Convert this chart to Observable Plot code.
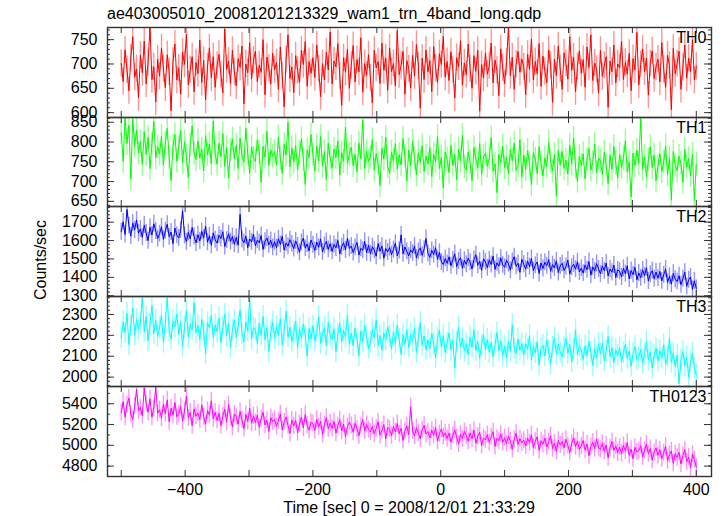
<!DOCTYPE html>
<html><head><meta charset="utf-8">
<script src="https://cdn.jsdelivr.net/npm/d3@7"></script>
<script src="https://cdn.jsdelivr.net/npm/@observablehq/plot@0.6"></script>
<style>
body{margin:0;background:#fff;}
#wrap{position:relative;width:723px;height:516px;font-family:"Liberation Sans",Arial,Helvetica,sans-serif;color:#000;overflow:hidden;}
.panel{position:absolute;left:0;}
.panel svg{overflow:visible;display:block;}
#title{position:absolute;left:107px;top:5px;font-size:16px;white-space:nowrap;}
#ylab{position:absolute;left:41px;top:260px;transform:translate(-50%,-50%) rotate(-90deg);font-size:16px;white-space:nowrap;}
#xlab{position:absolute;left:409px;top:499px;transform:translateX(-50%);font-size:16px;white-space:nowrap;}
</style></head><body>
<div id="wrap">
<div id="title">ae403005010_20081201213329_wam1_trn_4band_long.qdp</div>
<div id="ylab">Counts/sec</div>
<div id="xlab">Time [sec] 0 = 2008/12/01 21:33:29</div>
</div>
<script>
// light curve bins: start time and bin width (sec)
const timeStart = -500;
const binWidth = 3;

const bandNames = ["TH0", "TH1", "TH2", "TH3", "TH0123"];
// typical 1-sigma error bar per band (counts/sec)
const bandErrors = [28, 30, 46, 52, 82];

const th0 = [
701,664,729,688,645,712,756,673,690,631,
718,682,747,659,703,776,668,694,622,710,
675,733,690,651,719,684,604,706,741,667,
692,638,724,699,761,657,688,715,643,703,
680,749,662,707,626,694,733,671,715,652,
697,720,678,641,772,689,706,660,728,684,
655,711,693,737,618,700,682,744,669,708,
726,664,698,683,750,637,714,691,659,722,
688,703,648,735,676,612,709,760,670,694,
641,717,687,662,728,699,746,654,705,681,
713,672,739,690,633,701,667,724,688,766,
659,706,694,742,676,615,713,683,730,650,
697,738,663,709,684,754,642,701,677,719,
671,620,728,692,705,660,743,687,712,646,
733,684,701,655,769,678,697,726,638,707,
690,651,718,675,740,696,609,712,668,729,
684,707,643,736,691,662,721,699,757,673,
705,666,725,688,630,713,694,748,657,702,
678,741,690,650,717,685,728,603,699,671,
723,679,696,743,661,708,687,635,731,692,
659,704,775,676,714,648,699,726,683,710,
694,637,720,689,751,667,705,680,742,654,
716,685,662,729,698,621,710,676,737,690,
648,723,701,669,756,687,714,643,695,727,
681,709,652,735,693,760,666,702,689,640,
728,674,697,715,611,706,684,739,661,700,
692,747,668,703,679,722,645,711,688,765,
657,699,731,684,712,636,701,727,670,694,
710,663,744,689,652,718,697,606,732,680,
701,726,648,693,739,671,712,684,750,667,
695];

const th1 = [
823,751,861,796,842,707,858,789,830,772,
801,744,826,769,812,733,795,852,760,788,
770,815,742,797,834,761,703,790,819,752,
786,829,748,801,765,710,793,841,772,756,
803,759,782,727,816,768,795,745,853,771,
744,797,763,821,738,786,709,779,808,757,
792,733,810,766,749,835,771,720,788,759,
751,806,774,698,789,762,827,741,780,764,
776,742,813,758,721,794,767,850,737,785,
749,791,730,772,808,755,693,780,761,819,
768,727,790,752,814,739,776,705,797,760,
734,782,761,803,716,773,751,838,746,769,
787,740,769,725,798,758,856,733,777,751,
762,806,729,771,745,690,784,757,812,738,
721,775,753,796,732,768,742,809,764,702,
780,739,802,758,717,773,749,791,726,764,
744,786,712,769,750,814,733,761,684,775,
756,723,791,741,768,705,782,752,817,737,
729,774,748,702,786,757,734,796,718,763,
771,738,759,811,726,745,672,768,749,790,
735,762,719,781,753,797,728,740,806,711,
767,731,779,744,692,773,757,720,788,746,
714,760,738,799,751,727,768,664,779,742,
776,733,754,719,792,745,810,736,701,764,
741,770,707,757,783,729,748,795,722,760,
752,718,774,740,695,767,731,789,746,709,
769,736,758,803,724,750,661,772,740,779,
746,859,731,763,712,755,788,735,767,702,
738,771,725,749,790,717,760,653,776,741,
727,764,746,698,781,737,758,715,769,652,
744];

const th2 = [
1648,1702,1633,1769,1681,1624,1695,1657,1712,1640,
1663,1618,1684,1641,1599,1672,1630,1691,1652,1611,
1637,1675,1606,1653,1689,1621,1646,1583,1668,1629,
1614,1657,1762,1628,1593,1644,1609,1671,1622,1587,
1632,1598,1650,1613,1679,1591,1626,1574,1642,1604,
1586,1629,1611,1648,1567,1603,1637,1595,1622,1580,
1617,1575,1742,1606,1588,1624,1561,1609,1593,1635,
1571,1603,1588,1627,1552,1596,1614,1577,1601,1563,
1594,1561,1610,1579,1623,1548,1587,1569,1605,1582,
1556,1598,1571,1536,1590,1613,1559,1581,1544,1603,
1577,1546,1592,1563,1609,1538,1574,1595,1552,1583,
1541,1579,1560,1601,1527,1566,1588,1549,1612,1557,
1570,1535,1563,1590,1521,1558,1547,1596,1533,1574,
1529,1566,1548,1515,1583,1542,1570,1503,1557,1538,
1562,1524,1551,1586,1517,1546,1631,1528,1565,1541,
1516,1549,1533,1571,1505,1542,1560,1520,1553,1611,
1530,1509,1547,1524,1561,1498,1536,1484,1470,1502,
1476,1512,1463,1495,1528,1458,1489,1507,1449,1493,
1471,1505,1482,1446,1497,1523,1465,1488,1438,1501,
1484,1452,1496,1470,1515,1443,1479,1461,1506,1468,
1455,1493,1474,1439,1487,1512,1460,1476,1427,1498,
1471,1445,1489,1458,1503,1436,1466,1484,1421,1479,
1448,1482,1463,1497,1433,1469,1451,1490,1426,1462,
1476,1437,1459,1494,1418,1455,1472,1444,1485,1429,
1450,1423,1468,1441,1486,1412,1457,1434,1475,1446,
1419,1462,1436,1478,1408,1445,1428,1467,1399,1441,
1433,1402,1449,1420,1463,1391,1437,1415,1455,1386,
1424,1398,1441,1409,1452,1380,1417,1436,1393,1429,
1396,1432,1381,1414,1446,1373,1405,1363,1422,1390,
1377,1409,1360,1392,1428,1351,1387,1402,1335,1381,
1340];

const th3 = [
2188,2264,2213,2305,2156,2247,2331,2201,2276,2229,
2260,2383,2217,2289,2174,2252,2342,2208,2271,2195,
2236,2297,2167,2258,2385,2219,2183,2270,2241,2302,
2205,2266,2148,2239,2318,2192,2254,2226,2359,2213,
2247,2178,2276,2222,2113,2261,2235,2296,2189,2250,
2218,2282,2164,2238,2301,2197,2259,2142,2225,2273,
2190,2246,2323,2207,2169,2264,2221,2378,2183,2237,
2229,2161,2258,2203,2291,2178,2236,2124,2215,2262,
2186,2243,2201,2279,2153,2224,2316,2192,2238,2171,
2212,2268,2140,2230,2187,2254,2199,2101,2233,2183,
2245,2173,2216,2288,2162,2209,2236,2150,2262,2197,
2181,2231,2119,2204,2259,2170,2223,2191,2297,2157,
2210,2149,2235,2184,2103,2220,2172,2246,2195,2137,
2168,2227,2190,2274,2151,2199,2128,2212,2177,2241,
2196,2134,2217,2163,2250,2182,2109,2203,2157,2226,
2143,2205,2170,2233,2118,2188,2261,2152,2197,2129,
2178,2137,2209,2160,2092,2186,2225,2144,2199,2117,
2163,2212,2131,2178,2043,2169,2240,2140,2187,2124,
2159,2108,2192,2143,2228,2127,2171,2090,2156,2203,
2132,2180,2119,2166,2097,2155,2214,2126,2173,2102,
2148,2095,2170,2123,2251,2138,2112,2182,2129,2161,
2106,2159,2133,2198,2081,2146,2117,2169,2058,2137,
2152,2101,2177,2125,2064,2143,2188,2110,2158,2120,
2097,2142,2186,2114,2156,2073,2132,2226,2108,2149,
2128,2085,2150,2102,2171,2119,2056,2136,2094,2160,
2111,2163,2079,2126,2195,2098,2141,2070,2130,2104,
2139,2072,2117,2158,2090,2124,2051,2112,2146,2083,
2095,2133,2066,2109,2170,2082,2121,2043,2103,2138,
2078,2127,2091,2155,2060,2099,2186,2071,2114,2049,
2106,1968,2083,2122,2054,2097,1999,2076,2113,2040,
2010];

const th0123 = [
5316,5421,5270,5389,5455,5301,5247,5376,5538,5332,
5364,5285,5552,5401,5319,5448,5270,5357,5563,5309,
5342,5261,5396,5305,5437,5228,5358,5290,5411,5276,
5298,5376,5233,5330,5472,5263,5318,5189,5351,5280,
5312,5246,5389,5275,5203,5336,5291,5429,5256,5317,
5238,5307,5190,5281,5349,5222,5392,5269,5175,5301,
5275,5204,5326,5243,5161,5297,5230,5358,5212,5284,
5219,5291,5172,5255,5318,5196,5240,5134,5267,5228,
5251,5183,5236,5302,5147,5225,5274,5190,5113,5243,
5186,5239,5121,5207,5273,5168,5296,5192,5146,5221,
5209,5143,5252,5178,5231,5105,5196,5267,5160,5214,
5163,5230,5118,5189,5246,5137,5205,5084,5180,5222,
5191,5126,5213,5158,5092,5184,5247,5139,5200,5151,
5127,5182,5109,5163,5226,5098,5145,5199,5063,5170,
5156,5093,5181,5128,5210,5111,5164,5047,5139,5187,
5102,5371,5138,5089,5170,5118,5063,5149,5192,5107,
5131,5072,5146,5098,5169,5041,5112,5157,5084,5120,
5066,5119,5031,5097,5150,5075,5012,5108,5061,5134,
5093,5040,5118,5064,5145,5019,5086,5127,4998,5071,
5052,5103,5027,5081,5132,4989,5068,5044,5109,5030,
5073,5016,5089,5041,4962,5058,5115,5007,5064,5025,
5049,4993,5070,5026,5101,4978,5039,5082,4951,5044,
5011,5067,4985,5034,5092,4969,5023,4941,5048,5003,
5036,4977,5058,4998,4931,5019,5074,4986,5040,4960,
4994,5047,4953,5013,4899,4987,5031,4968,5060,4975,
4962,5018,4941,5003,4880,4976,5037,4951,4993,4929,
4984,4921,4998,4947,5026,4904,4963,4870,4981,4935,
4947,4996,4889,4952,5011,4918,4969,4856,4931,4975,
4903,4957,4872,4929,4990,4851,4911,4946,4826,4919,
4884,4933,4820,4902,4958,4841,4887,4785,4915,4862,
4790];

// tick labels
const th0Ticks = [600, 650, 700, 750];
const th1Ticks = [650, 700, 750, 800, 850];
const th2Ticks = [1300, 1400, 1500, 1600, 1700];
const th3Ticks = [2000, 2100, 2200, 2300];
const th0123Ticks = [4800, 5000, 5200, 5400];
const timeTicks = [-400, -200, 0, 200, 400];

// ---- layout / style ----
const font = '"Liberation Sans", Arial, Helvetica, sans-serif';
const W = 723, ML = 107, MR = 12, innerW = W - ML - MR;
const xDomain = [-521.5, 423.8];
const panelTops = [27, 117, 206, 296, 386, 476];
const panels = [
  {values: th0, ticks: th0Ticks, color: "#ff0000", domain: [590, 775], minor: 10},
  {values: th1, ticks: th1Ticks, color: "#00ff00", domain: [637, 862], minor: 10},
  {values: th2, ticks: th2Ticks, color: "#0000ff", domain: [1296, 1785], minor: 20},
  {values: th3, ticks: th3Ticks, color: "#00ffff", domain: [1955, 2386], minor: 20},
  {values: th0123, ticks: th0123Ticks, color: "#ff00ff", domain: [4700, 5566], minor: 100}
];
const xMinorTicks = d3.range(-500, 401, 100);

const wrap = document.getElementById("wrap");
panels.forEach((p, i) => {
  const err = bandErrors[i];
  const data = p.values.map((v, j) => ({t: timeStart + j * binWidth, v, lo: v - err, hi: v + err}));
  const isLast = i === panels.length - 1;
  const h = panelTops[i + 1] - panelTops[i];
  const MB = isLast ? 40 : 0;
  const yMinor = d3.range(Math.ceil(p.domain[0] / p.minor) * p.minor, p.domain[1], p.minor);
  const marks = [
    Plot.ruleX(data, {x: "t", y1: "lo", y2: "hi", stroke: p.color, strokeWidth: 1.4, strokeOpacity: 0.42, clip: true}),
    Plot.line(data, {x: "t", y: "v", stroke: p.color, strokeWidth: 1, clip: true}),
    Plot.tickY(yMinor, {y: d => d, stroke: "#333", strokeWidth: 1, insetRight: innerW - 3}),
    Plot.tickY(yMinor, {y: d => d, stroke: "#333", strokeWidth: 1, insetLeft: innerW - 3}),
    Plot.tickY(p.ticks, {y: d => d, stroke: "#333", strokeWidth: 1, insetRight: innerW - 7}),
    Plot.tickY(p.ticks, {y: d => d, stroke: "#333", strokeWidth: 1, insetLeft: innerW - 7}),
    Plot.tickX(xMinorTicks, {x: d => d, stroke: "#333", strokeWidth: 1, insetBottom: h - 6}),
    Plot.tickX(xMinorTicks, {x: d => d, stroke: "#333", strokeWidth: 1, insetTop: h - 6}),
    Plot.axisY({ticks: p.ticks, tickFormat: "d", tickSize: 0, tickPadding: 10, fontSize: 16, label: null}),
    Plot.text([bandNames[i]], {text: d => d, frameAnchor: "top-right", textAnchor: "end", lineAnchor: "top", dx: -5, dy: 4, fontSize: 16, fill: "#000"}),
    Plot.frame({stroke: "#333", strokeWidth: 1.4})
  ];
  if (isLast) marks.push(Plot.axisX({ticks: timeTicks, tickFormat: "d", tickSize: 0, tickPadding: 7, fontSize: 16, label: null}));
  const svg = Plot.plot({
    width: W, height: h + MB,
    marginLeft: ML, marginRight: MR, marginTop: 0, marginBottom: MB,
    x: {domain: xDomain, axis: isLast ? undefined : null},
    y: {domain: p.domain},
    style: {fontFamily: font, fontSize: "16px", color: "#000", background: "transparent", overflow: "visible"},
    marks
  });
  const div = document.createElement("div");
  div.className = "panel";
  div.style.top = panelTops[i] + "px";
  div.appendChild(svg);
  wrap.appendChild(div);
});
</script>
</body></html>
